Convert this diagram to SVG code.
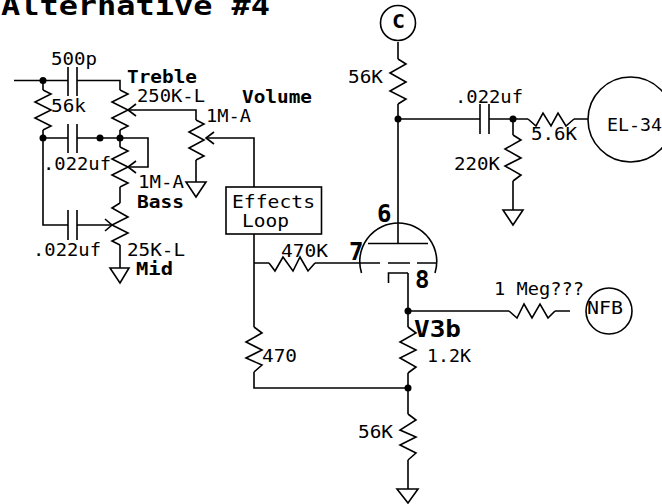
<svg xmlns="http://www.w3.org/2000/svg" width="662" height="504" viewBox="0 0 662 504">
<style>
.w{fill:none;stroke:#000;stroke-width:1.6;stroke-linejoin:miter}
.d{fill:#000}
text{font-family:"DejaVu Sans Mono","Liberation Mono",monospace;font-size:17.5px;fill:#000}
.b{font-weight:bold}
.n{font-weight:bold;font-size:24px}
.t{font-weight:bold;font-size:27px}
</style>
<rect width="662" height="504" fill="#fff"/>
<text class="t" x="1" y="15" textLength="269" lengthAdjust="spacingAndGlyphs">Alternative #4</text>
<g id="connectors">
<path class="w" d="M14 80.5H68M77 80.5H120V90M43 80.5V90M43 130V225H68M43 138H68M77 138H148V167H128M120 130V147M120 187V203M120 245V268M77 225H112M128 110H196V120M196 160V182M206 138H254V187M254 234V327M254 263H269M254 372V388H408M315 263H380M398 42V59M398 104V243M398 119H480M489 119H528M574 119H588M513 119V135M513 181V210M408 273V327M408 373V414M408 460V489M408 311H509M555 311H570"/>
<g class="d"><circle cx="43" cy="80.5" r="3.5"/><circle cx="43" cy="138" r="3.5"/><circle cx="100" cy="138" r="3.5"/><circle cx="120" cy="138" r="3.5"/><circle cx="398" cy="119" r="3.5"/><circle cx="513" cy="119" r="3.5"/><circle cx="408" cy="311" r="3.5"/><circle cx="408" cy="388" r="3.5"/></g>
</g>
<g id="c-500p"><path class="w" d="M68 67V96M77 67V96"/><text x="51" y="65" textLength="46" lengthAdjust="spacingAndGlyphs">500p</text></g>
<g id="r-56k"><polyline class="w" points="43,90 51,94 35,102 51,110 35,118 51,126 43,130"/><text x="51" y="112" textLength="35" lengthAdjust="spacingAndGlyphs">56k</text></g>
<g id="c-022a"><path class="w" d="M68 124V153M77 124V153"/><text x="43" y="170" textLength="68" lengthAdjust="spacingAndGlyphs">.022uf</text></g>
<g id="c-022b"><path class="w" d="M68 210V240M77 210V240"/><text x="33" y="256" textLength="68" lengthAdjust="spacingAndGlyphs">.022uf</text></g>
<g id="pot-treble"><polyline class="w" points="120,90 128,94 112,102 128,110 112,118 128,126 120,130"/><path class="w" d="M136 104L128 110L136 116"/><text class="b" x="127" y="83" textLength="70" lengthAdjust="spacingAndGlyphs">Treble</text><text x="137" y="102" textLength="68" lengthAdjust="spacingAndGlyphs">250K-L</text></g>
<g id="pot-bass"><polyline class="w" points="120,147 128,151 112,159 128,167 112,175 128,183 120,187"/><path class="w" d="M136 161L128 167L136 173"/><text x="138" y="188" textLength="46" lengthAdjust="spacingAndGlyphs">1M-A</text><text class="b" x="137" y="208" textLength="47" lengthAdjust="spacingAndGlyphs">Bass</text></g>
<g id="pot-mid"><polyline class="w" points="120,203 112,208 128,217 112,225 128,233 112,241 120,245"/><path class="w" d="M105 219L112 225L105 231"/><text x="127" y="256" textLength="58" lengthAdjust="spacingAndGlyphs">25K-L</text><text class="b" x="136" y="275" textLength="37" lengthAdjust="spacingAndGlyphs">Mid</text></g>
<g id="gnd-mid"><path class="w" d="M110 268H129L120 283Z"/></g>
<g id="pot-volume"><polyline class="w" points="196,120 204,124 189,132 204,140 189,148 204,156 196,160"/><path class="w" d="M214 132L206 138L214 144"/><text class="b" x="242" y="103" textLength="70" lengthAdjust="spacingAndGlyphs">Volume</text><text x="206" y="122" textLength="45" lengthAdjust="spacingAndGlyphs">1M-A</text></g>
<g id="gnd-volume"><path class="w" d="M186 182H206L196 197Z"/></g>
<g id="effects-loop"><rect class="w" x="226" y="187" width="95.500" height="47"/><text x="232" y="208" textLength="83" lengthAdjust="spacingAndGlyphs">Effects</text><text x="242" y="227" textLength="47" lengthAdjust="spacingAndGlyphs">Loop</text></g>
<g id="r-470k"><polyline class="w" points="269,263 275,271 283,257 293,271 300,257 308,271 315,263"/><text x="281" y="257" textLength="47" lengthAdjust="spacingAndGlyphs">470K</text></g>
<g id="r-470"><polyline class="w" points="254,327 262,333 246,342 262,350 246,358 262,365 254,372"/><text x="262" y="362" textLength="35" lengthAdjust="spacingAndGlyphs">470</text></g>
<g id="node-c"><circle class="w" cx="398" cy="23" r="17.500"/><text class="b" style="font-size:20px" x="392" y="28" textLength="13" lengthAdjust="spacingAndGlyphs">C</text></g>
<g id="r-56k-plate"><polyline class="w" points="398,59 406,64 390,73 406,82 390,91 406,99 398,104"/><text x="348" y="83" textLength="35" lengthAdjust="spacingAndGlyphs">56K</text></g>
<g id="c-022c"><path class="w" d="M480 104V134M489 104V134"/><text x="455" y="103" textLength="68" lengthAdjust="spacingAndGlyphs">.022uf</text></g>
<g id="r-5k6"><polyline class="w" points="528,119 536,126 543,113 551,126 558,113 566,126 574,119"/><text x="531" y="140" textLength="46" lengthAdjust="spacingAndGlyphs">5.6K</text></g>
<g id="node-el34"><circle class="w" cx="630.500" cy="119.500" r="42.500"/><text x="607" y="131" textLength="55" lengthAdjust="spacingAndGlyphs">EL-34</text></g>
<g id="r-220k"><polyline class="w" points="513,135 521,140 505,149 521,158 505,166 521,175 513,181"/><text x="454" y="170" textLength="46" lengthAdjust="spacingAndGlyphs">220K</text></g>
<g id="gnd-220k"><path class="w" d="M503 210H523L513 225Z"/></g>
<g id="tube"><path class="w" d="M361.500 273A38.500 38.500 0 1 1 435 273M368 243.500H428M388 263H410M417 263H436M388.500 283V273H408"/><text class="n" x="377" y="222">6</text><text class="n" x="349" y="260">7</text><text class="n" x="415" y="288">8</text><text class="b" style="font-size:23px" x="414" y="337" textLength="47" lengthAdjust="spacingAndGlyphs">V3b</text></g>
<g id="r-1k2"><polyline class="w" points="408,327 416,333 400,342 416,350 400,358 416,367 408,373"/><text x="427" y="362" textLength="44" lengthAdjust="spacingAndGlyphs">1.2K</text></g>
<g id="r-56k-cathode"><polyline class="w" points="408,414 416,420 400,430 416,437 400,445 416,453 408,460"/><text x="358" y="438" textLength="35" lengthAdjust="spacingAndGlyphs">56K</text></g>
<g id="gnd-cathode"><path class="w" d="M397 489H418L408 503Z"/></g>
<g id="r-1meg"><polyline class="w" points="509,311 517,318 524,304 532,318 540,304 548,318 555,311"/><text x="494" y="295" textLength="90" lengthAdjust="spacingAndGlyphs">1 Meg???</text></g>
<g id="node-nfb"><circle class="w" cx="609" cy="311" r="23"/><text x="587" y="314" textLength="36" lengthAdjust="spacingAndGlyphs">NFB</text></g>
</svg>
